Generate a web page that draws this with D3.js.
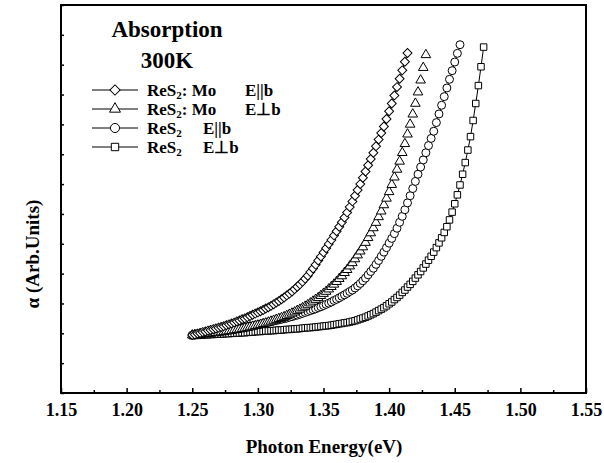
<!DOCTYPE html>
<html>
<head>
<meta charset="utf-8">
<script src="https://cdn.jsdelivr.net/npm/d3@7"></script>
<style>
  body { margin: 0; background: #fff; }
  svg { display: block; }
  text { font-family: "Liberation Serif", "Times New Roman", serif; font-weight: bold; fill: #000; }
  .axis text { font-size: 18px; }
  .axis line { stroke: #000; stroke-width: 1.5; }
</style>
</head>
<body>
<svg width="604" height="463"></svg>
<script>
// photon energy grid (eV), shared by all four spectra
var energy = [
  1.250,1.252,1.254,1.256,1.258,1.260,1.262,1.264,1.266,1.268,
  1.270,1.272,1.274,1.276,1.278,1.280,1.282,1.284,1.286,1.288,
  1.290,1.292,1.294,1.296,1.298,1.300,1.302,1.304,1.306,1.308,
  1.310,1.312,1.314,1.316,1.318,1.320,1.322,1.324,1.326,1.328,
  1.330,1.332,1.334,1.336,1.338,1.340,1.342,1.344,1.346,1.348,
  1.350,1.352,1.354,1.356,1.358,1.360,1.362,1.364,1.366,1.368,
  1.370,1.372,1.374,1.376,1.378,1.380,1.382,1.384,1.386,1.388,
  1.390,1.392,1.394,1.396,1.398,1.400,1.402,1.404,1.406,1.408,
  1.410,1.412,1.414,1.416,1.418,1.420,1.422,1.424,1.426,1.428,
  1.430,1.432,1.434,1.436,1.438,1.440,1.442,1.444,1.446,1.448,
  1.450,1.452,1.454,1.456,1.458,1.460,1.462,1.464,1.466,1.468,
  1.470,1.472
];

// ReS2:Mo  E||b  (diamonds)
var moParallel = [
  1.94,1.96,1.99,2.01,2.04,2.06,2.09,2.11,2.14,2.16,
  2.19,2.21,2.24,2.27,2.30,2.33,2.36,2.40,2.43,2.47,
  2.50,2.54,2.58,2.62,2.66,2.70,2.74,2.78,2.83,2.87,
  2.92,2.97,3.03,3.08,3.14,3.20,3.27,3.33,3.40,3.48,
  3.56,3.64,3.73,3.83,3.93,4.05,4.17,4.30,4.44,4.57,
  4.71,4.85,4.99,5.13,5.28,5.42,5.57,5.72,5.88,6.05,
  6.23,6.42,6.61,6.80,7.00,7.21,7.42,7.63,7.84,8.05,
  8.27,8.49,8.71,8.93,9.18,9.44,9.70,9.97,10.25,10.53,
  10.81,11.10,11.39
];

// ReS2:Mo  E_|_b  (triangles)
var moPerp = [
  1.94,1.95,1.96,1.97,1.97,1.98,1.99,2.00,2.01,2.02,
  2.03,2.04,2.05,2.07,2.08,2.09,2.11,2.12,2.14,2.15,
  2.17,2.19,2.21,2.23,2.25,2.27,2.29,2.32,2.34,2.37,
  2.40,2.43,2.46,2.49,2.52,2.55,2.59,2.63,2.67,2.71,
  2.76,2.80,2.85,2.90,2.95,3.01,3.07,3.13,3.19,3.26,
  3.33,3.40,3.48,3.56,3.64,3.73,3.83,3.92,4.03,4.13,
  4.25,4.36,4.49,4.62,4.75,4.89,5.04,5.20,5.36,5.53,
  5.71,5.90,6.09,6.30,6.52,6.74,6.98,7.23,7.49,7.76,
  8.05,8.35,8.67,9.00,9.34,9.70,10.08,10.48,10.90,11.33
];

// ReS2  E||b  (circles)
var pureParallel = [
  1.94,1.95,1.97,1.98,1.99,2.01,2.02,2.03,2.04,2.06,
  2.07,2.08,2.10,2.11,2.12,2.14,2.15,2.16,2.17,2.19,
  2.20,2.22,2.24,2.25,2.27,2.29,2.31,2.33,2.35,2.37,
  2.39,2.41,2.43,2.45,2.47,2.49,2.51,2.54,2.56,2.59,
  2.61,2.64,2.67,2.70,2.73,2.76,2.79,2.82,2.86,2.89,
  2.93,2.97,3.01,3.05,3.10,3.14,3.19,3.24,3.29,3.34,
  3.40,3.45,3.52,3.59,3.67,3.76,3.85,3.96,4.07,4.18,
  4.31,4.44,4.58,4.72,4.87,5.02,5.18,5.34,5.52,5.72,
  5.92,6.14,6.37,6.61,6.85,7.09,7.33,7.57,7.81,8.05,
  8.29,8.53,8.77,9.06,9.35,9.64,9.93,10.22,10.51,10.80,
  11.09,11.38,11.67
];

// ReS2  E_|_b  (squares)
var purePerp = [
  1.92,1.93,1.93,1.94,1.94,1.95,1.95,1.96,1.96,1.97,
  1.97,1.98,1.98,1.99,1.99,2.00,2.00,2.01,2.01,2.02,
  2.02,2.03,2.04,2.04,2.05,2.06,2.06,2.07,2.08,2.08,
  2.09,2.09,2.10,2.11,2.11,2.12,2.13,2.13,2.14,2.15,
  2.15,2.16,2.17,2.18,2.19,2.19,2.20,2.21,2.22,2.23,
  2.24,2.25,2.26,2.27,2.29,2.30,2.32,2.33,2.35,2.36,
  2.38,2.40,2.42,2.45,2.48,2.51,2.54,2.58,2.62,2.66,
  2.71,2.76,2.81,2.86,2.92,2.99,3.05,3.13,3.20,3.28,
  3.37,3.45,3.55,3.64,3.74,3.85,3.96,4.07,4.19,4.32,
  4.45,4.58,4.72,4.87,5.03,5.20,5.38,5.57,5.80,6.06,
  6.34,6.64,6.97,7.33,7.72,8.14,8.59,9.13,9.70,10.30,
  10.93,11.59
];

var xMajorTicks = [1.15, 1.20, 1.25, 1.30, 1.35, 1.40, 1.45, 1.50, 1.55];
var xMinorTicks = [1.175, 1.225, 1.275, 1.325, 1.375, 1.425, 1.475, 1.525];
var yTicks = [0, 1, 2, 3, 4, 5, 6, 7, 8, 9, 10, 11, 12, 13];

// legend pieces (subscript 2 is drawn as its own tspan)
var legendHead = ["ReS", "ReS", "ReS", "ReS"];
var legendMid = [": Mo", ": Mo", "", ""];
var legendPol = ["E||b", "E\u22a5b", "E||b", "E\u22a5b"];

var svg = d3.select("svg"),
    margin = {top: 5, right: 18, bottom: 70, left: 61},
    width = +svg.attr("width") - margin.left - margin.right,
    height = +svg.attr("height") - margin.top - margin.bottom;

var x = d3.scaleLinear().domain([1.15, 1.55]).range([0, width]),
    y = d3.scaleLinear().domain([0, 13]).range([height, 0]);

// marker shapes: diamond = square turned 45deg
var shapes = [
  {type: d3.symbolSquare, size: 40, rot: 45},
  {type: d3.symbolTriangle, size: 40, rot: 0},
  {type: d3.symbolCircle, size: 50, rot: 0},
  {type: d3.symbolSquare, size: 42, rot: 0}
];

var series = [
  {vals: moParallel, shape: 0, line: true},
  {vals: moPerp, shape: 1, line: false},
  {vals: pureParallel, shape: 2, line: true},
  {vals: purePerp, shape: 3, line: true}
];

var g = svg.append("g")
    .attr("transform", "translate(" + margin.left + "," + margin.top + ")");

var line = d3.line()
    .x(function (d) { return x(d[0]); })
    .y(function (d) { return y(d[1]); });

// draw the spectra, back to front
series.slice().reverse().forEach(function (s) {
  var pts = s.vals.map(function (v, i) { return [energy[i], v]; });
  var sg = g.append("g");
  if (s.line) {
    sg.append("path")
      .attr("d", line(pts))
      .attr("fill", "none")
      .attr("stroke", "#000")
      .attr("stroke-width", 1);
  }
  var sh = shapes[s.shape];
  sg.selectAll("path.mk")
    .data(pts)
    .enter().append("path")
    .attr("class", "mk")
    .attr("d", d3.symbol().type(sh.type).size(sh.size))
    .attr("transform", function (d) {
      return "translate(" + x(d[0]) + "," + y(d[1]) + ") rotate(" + sh.rot + ")";
    })
    .attr("fill", "#fff")
    .attr("stroke", "#000")
    .attr("stroke-width", 1);
});

// bottom axis, major and minor ticks pointing inward
var xAxis = g.append("g")
    .attr("class", "axis")
    .attr("transform", "translate(0," + height + ")")
    .call(d3.axisBottom(x).tickValues(xMajorTicks).tickSize(-5).tickPadding(10)
      .tickFormat(d3.format(".2f")));
xAxis.select(".domain").remove();

var xMinor = g.append("g")
    .attr("class", "axis")
    .attr("transform", "translate(0," + height + ")")
    .call(d3.axisBottom(x).tickValues(xMinorTicks).tickSize(-3).tickFormat(""));
xMinor.select(".domain").remove();

var yAxis = g.append("g")
    .attr("class", "axis")
    .call(d3.axisLeft(y).tickValues(yTicks).tickSize(-3).tickFormat(""));
yAxis.select(".domain").remove();

// frame
g.append("rect")
  .attr("width", width)
  .attr("height", height)
  .attr("fill", "none")
  .attr("stroke", "#000")
  .attr("stroke-width", 2);

// axis titles
svg.append("text")
  .attr("x", 324)
  .attr("y", 453)
  .attr("text-anchor", "middle")
  .style("font-size", "19px")
  .text("Photon Energy(eV)");

svg.append("text")
  .attr("transform", "translate(39,254) rotate(-90)")
  .attr("text-anchor", "middle")
  .style("font-size", "19px")
  .text("\u03b1 (Arb.Units)");

// inset title
svg.append("text").attr("x", 167).attr("y", 37).attr("text-anchor", "middle")
  .style("font-size", "23px").text("Absorption");
svg.append("text").attr("x", 167).attr("y", 68).attr("text-anchor", "middle")
  .style("font-size", "23px").text("300K");

// legend
var leg = svg.append("g");
legendHead.forEach(function (h, i) {
  var cy = 90 + i * 19;
  var row = leg.append("g").attr("transform", "translate(0," + cy + ")");
  row.append("line")
    .attr("x1", 92).attr("x2", 138)
    .attr("stroke", "#000").attr("stroke-width", 1);
  var sh = shapes[series[i].shape];
  row.append("path")
    .attr("d", d3.symbol().type(sh.type).size(sh.size * 1.3))
    .attr("transform", "translate(115,0) rotate(" + sh.rot + ")")
    .attr("fill", "#fff").attr("stroke", "#000").attr("stroke-width", 1);
  var t = row.append("text").attr("x", 147).attr("y", 6).style("font-size", "17px");
  t.append("tspan").text(h);
  t.append("tspan").attr("dy", 3).style("font-size", "11px").text("2");
  t.append("tspan").attr("dy", -3).text(legendMid[i]);
  row.append("text")
    .attr("x", legendMid[i] ? 245 : 203)
    .attr("y", 6)
    .style("font-size", "17px")
    .text(legendPol[i]);
});
</script>
</body>
</html>
